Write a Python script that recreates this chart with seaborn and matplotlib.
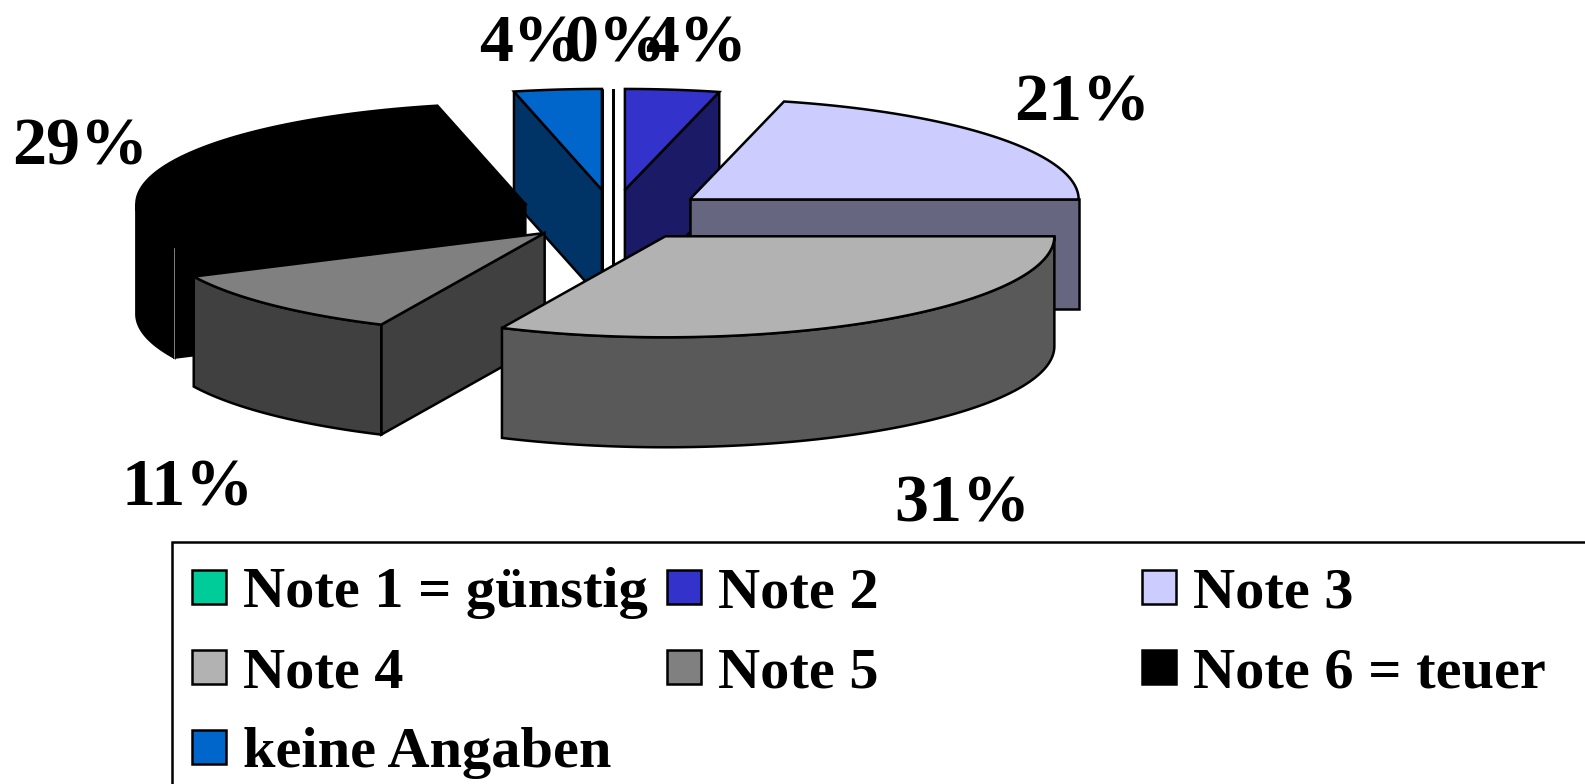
#!/usr/bin/env python3
"""Exploded 3D pie of price ratings (Note 1-6), drawn on a pixel-scaled axes"""

import numpy as np
import matplotlib
matplotlib.use('Agg')
import matplotlib.pyplot as plt
from matplotlib.patches import Polygon, Rectangle
import seaborn as sns

categories = ['Note 1 = günstig', 'Note 2', 'Note 3', 'Note 4', 'Note 5', 'Note 6 = teuer', 'keine Angaben']
values = [0.0, 3.9, 21.1, 31.9, 11.0, 28.47, 3.63]
percent_labels = ['0%', '4%', '21%', '31%', '11%', '29%', '4%']
colors = ['#00CC99', '#3333CC', '#CCCCFF', '#B2B2B2', '#808080', '#000000', '#0066CC']

# label centre x / baseline y, same order as categories
label_x = [615, 696, 1082, 962, 188, 80, 530]
label_y = [61, 61, 120, 522, 505, 164, 61]

W, H = 1585, 784
CX, CY = 613, 215
RX, RY = 389, 101
DEPTH = 110
EXPLODE = 0.25
LW = 1.8

sns.set_theme(style='white')
plt.rcParams['font.family'] = ['Liberation Serif', 'DejaVu Serif']
palette = sns.color_palette(colors)

fig, ax = plt.subplots(figsize=(W / 100, H / 100), dpi=100)
fig.subplots_adjust(0, 0, 1, 1)
ax.set_xlim(0, W)
ax.set_ylim(H, 0)
ax.axis('off')


def pt(ax0, ay0, deg):
    t = np.radians(deg)
    return np.array([ax0 + RX * np.sin(t), ay0 - RY * np.cos(t)])


def draw_slice(start, end, top, side):
    mid = np.radians((start + end) / 2)
    ox = CX + EXPLODE * RX * np.sin(mid)
    oy = CY - EXPLODE * RY * np.cos(mid)
    apex = np.array([ox, oy])
    down = np.array([0, DEPTH])
    kw = dict(closed=True, ec='black', lw=LW, joinstyle='miter')

    # cut faces turned towards the viewer
    p_start, p_end = pt(ox, oy, start), pt(ox, oy, end)
    if np.sin(np.radians(start)) <= 1e-9:
        ax.add_patch(Polygon([apex, p_start, p_start + down, apex + down], fc=side, **kw))
    if np.sin(np.radians(end)) >= -1e-9:
        ax.add_patch(Polygon([apex, p_end, p_end + down, apex + down], fc=side, **kw))

    # outer wall, front half only
    lo, hi = max(start, 90), min(end, 270)
    if hi > lo:
        arc = np.array([pt(ox, oy, a) for a in np.linspace(lo, hi, 80)])
        ax.add_patch(Polygon(np.vstack([arc, arc[::-1] + down]), fc=side, **kw))

    # top face
    arc = np.array([pt(ox, oy, a) for a in np.linspace(start, end, 80)])
    ax.add_patch(Polygon(np.vstack([apex, arc]), fc=top, **kw))
    return p_start


# slices, back to front
edges = np.cumsum([0] + values) * 3.6
apex_y = [CY - EXPLODE * RY * np.cos(np.radians((edges[i] + edges[i + 1]) / 2)) for i in range(len(values))]
for i in np.argsort(apex_y):
    top = palette[i]
    side = tuple(np.array(top) * 0.5)
    p0 = draw_slice(edges[i], edges[i + 1], top, side)
    if colors[i] == '#000000':
        # thin light seam on the black wall, zorder 1 keeps it under later slices
        ax.plot([p0[0], p0[0]], [p0[1], p0[1] + DEPTH], color='#808080', lw=0.7, zorder=1)

for i, lab in enumerate(percent_labels):
    ax.text(label_x[i], label_y[i], lab, ha='center', va='baseline',
            fontsize=49, fontweight='bold', color='black', zorder=5)

# legend box runs off the picture on the right and bottom
ax.add_patch(Rectangle((172, 542), 1500, 400, fc='white', ec='black', lw=LW, zorder=3))
col_x = [192, 667, 1142]
row_y = [570, 650, 730]
for i, name in enumerate(categories):
    r, c = divmod(i, 3)
    ax.add_patch(Rectangle((col_x[c], row_y[r]), 34, 34, fc=palette[i], ec='black', lw=LW, zorder=4))
    ax.text(col_x[c] + 51, row_y[r] + 37, name, ha='left', va='baseline',
            fontsize=42, fontweight='bold', color='black', zorder=5)

fig.savefig('out.png', dpi=100, facecolor='white')
plt.close(fig)
